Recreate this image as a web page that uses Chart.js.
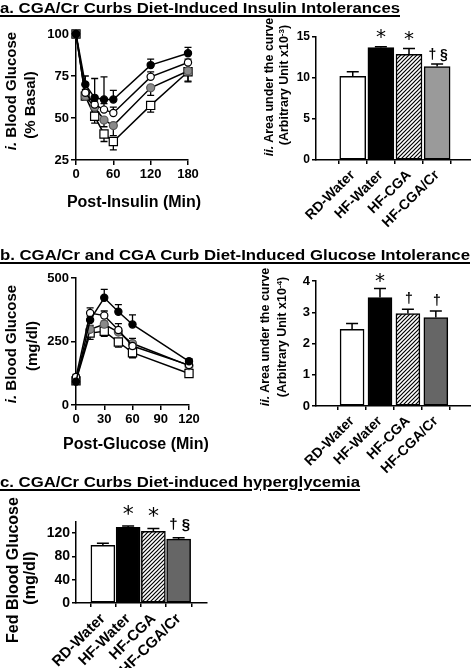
<!DOCTYPE html>
<html><head><meta charset="utf-8">
<script src="https://cdn.jsdelivr.net/npm/chart.js@4.4.0/dist/chart.umd.min.js"></script>
<style>
html,body{margin:0;padding:0;background:#fff;}
#wrap{position:relative;width:471px;height:668px;overflow:hidden;font-family:"Liberation Sans",Arial,sans-serif;color:#000;}
canvas{position:absolute;left:0;top:0;}
.t{position:absolute;white-space:nowrap;font-weight:bold;line-height:1;}
.h{left:0;font-size:15px;line-height:15px;text-decoration:underline;text-decoration-thickness:1.5px;text-underline-offset:2px;transform-origin:0 0;}
.c{transform:translate(-50%,-50%);}
.r{transform:translate(-50%,-50%) rotate(-90deg);}
sup{font-size:0.65em;vertical-align:0.45em;line-height:0;}
</style></head>
<body><div id="wrap">
<canvas id="cA1" width="471" height="668"></canvas>
<canvas id="cA2" width="471" height="668"></canvas>
<canvas id="cB1" width="471" height="668"></canvas>
<canvas id="cB2" width="471" height="668"></canvas>
<canvas id="cC" width="471" height="668"></canvas>

<div class="t h" id="ta" data-w="400" style="top:0px">a. CGA/Cr Curbs Diet-Induced Insulin Intolerances</div>
<div class="t h" id="tb" data-w="470" style="top:247px">b. CGA/Cr and CGA Curb Diet-Induced Glucose Intolerance</div>
<div class="t h" id="tc" data-w="360" style="top:474px">c. CGA/Cr Curbs Diet-induced hyperglycemia</div>

<div class="t r" style="left:10px;top:91px;font-size:15px"><i>i.</i> Blood Glucose</div>
<div class="t r" style="left:29px;top:105px;font-size:15px">(% Basal)</div>
<div class="t c" style="left:134px;top:202px;font-size:16px">Post-Insulin (Min)</div>

<div class="t r" style="left:269px;top:87px;font-size:12.5px"><i>ii.</i> Area under the curve</div>
<div class="t r" style="left:284px;top:85px;font-size:12.5px">(Arbitrary Unit x10<sup>-3</sup>)</div>

<div class="t r" style="left:10px;top:344px;font-size:15px"><i>i.</i> Blood Glucose</div>
<div class="t r" style="left:31px;top:346px;font-size:15px">(mg/dl)</div>
<div class="t c" style="left:136px;top:444px;font-size:16px">Post-Glucose (Min)</div>

<div class="t r" style="left:265px;top:337px;font-size:12.5px"><i>ii.</i> Area under the curve</div>
<div class="t r" style="left:282px;top:337px;font-size:12.5px">(Arbitrary Unit x10<sup>-4</sup>)</div>

<div class="t r" style="left:13px;top:570px;font-size:16px">Fed Blood Glucose</div>
<div class="t r" style="left:30px;top:578px;font-size:16px">(mg/dl)</div>
</div>
<script>
// ================= DATA =================
const groups = ['RD-Water', 'HF-Water', 'HF-CGA', 'HF-CGA/Cr'];

// a.i insulin tolerance (% basal)
const itTimes = [0, 15, 30, 45, 60, 120, 180];
const itRDWater = [100, 63, 51, 40.5, 36, 57.5, 77.5];
const itRDWaterErr = [0, 2, 4, 4.5, 5, 4, 6];
const itHFWater = [100, 70, 62, 61, 61, 81.5, 88.5];
const itHFWaterErr = [0, 5, 11.5, 13.5, 5.5, 3.5, 3.5];
const itHFCGA = [100, 65, 58, 55, 53, 74.5, 83];
const itHFCGAErr = [0, 2, 2, 3.5, 3.5, 3, 2];
const itHFCGACr = [100, 63, 56.5, 48.8, 45.5, 68, 78];
const itHFCGACrErr = [0, 2, 3, 4, 6, 4.5, 6];
const itXTicks = [0, 60, 120, 180];
const itYTicks = [25, 50, 75, 100];

// a.ii insulin AUC (x10^3)
const itAUC = [10.2, 13.7, 12.9, 11.4];
const itAUCErr = [0.55, 0.1, 0.7, 0.3];
const itAUCMarks = ['', '*', '*', '† §'];
const itAUCTicks = [0, 5, 10, 15];

// b.i glucose tolerance (mg/dl)
const gtTimes = [0, 15, 30, 45, 60, 120];
const gtRDWater = [95, 283, 290, 248, 206, 124];
const gtRDWaterErr = [10, 25, 20, 20, 20, 10];
const gtHFWater = [92, 335, 422, 367, 317, 172];
const gtHFWaterErr = [10, 15, 33, 28, 38, 10];
const gtHFCGA = [110, 362, 352, 295, 232, 157];
const gtHFCGAErr = [10, 20, 18, 25, 15, 8];
const gtHFCGACr = [100, 298, 318, 287, 242, 155];
const gtHFCGACrErr = [10, 15, 12, 15, 20, 8];
const gtXTicks = [0, 30, 60, 90, 120];
const gtYTicks = [0, 250, 500];

// b.ii glucose AUC (x10^4)
const gtAUC = [2.45, 3.47, 2.96, 2.83];
const gtAUCErr = [0.19, 0.29, 0.14, 0.21];
const gtAUCMarks = ['', '*', '†', '†'];
const gtAUCTicks = [0, 1, 2, 3, 4];

// c fed blood glucose (mg/dl)
const fedGlucose = [99, 129.5, 123, 109.5];
const fedGlucoseErr = [3.5, 2.5, 4.5, 2.5];
const fedMarks = ['', '*', '*', '† §'];
const fedTicks = [0, 40, 80, 120];

// ================= DRAWING =================
const W = 471, H = 668;
const FONT = '"Liberation Sans", Arial, sans-serif';
Chart.defaults.font.family = FONT;
Chart.defaults.color = '#000';

// fit titles to width
document.querySelectorAll('.h').forEach(el => {
  const w = el.getBoundingClientRect().width;
  el.style.transform = 'scaleX(' + (parseFloat(el.dataset.w) / w) + ')';
});

function hatch() {
  const n = 4;
  const c = document.createElement('canvas'); c.width = n; c.height = n;
  const g = c.getContext('2d');
  g.fillStyle = '#fff'; g.fillRect(0, 0, n, n);
  g.strokeStyle = '#000'; g.lineWidth = 1.2;
  g.beginPath();
  g.moveTo(-1, n + 1); g.lineTo(n + 1, -1);
  g.moveTo(-1, 1); g.lineTo(1, -1);
  g.moveTo(n - 1, n + 1); g.lineTo(n + 1, n - 1);
  g.stroke();
  return document.createElement('canvas').getContext('2d').createPattern(c, 'repeat');
}

function scaleOpts(o) {
  return {
    type: 'linear', min: o.min, max: o.max,
    afterBuildTicks: s => { s.ticks = o.ticks.map(v => ({ value: v })); },
    afterFit: o.fit,
    border: { display: true, color: '#000', width: 1.5 },
    grid: { drawOnChartArea: false, drawTicks: true, tickLength: o.tl || 5, color: '#000', lineWidth: 1.5 },
    ticks: {
      color: '#000', autoSkip: false, padding: o.pad ?? 2,
      font: { family: FONT, size: o.fs, weight: 'bold' },
      callback: o.cb || (v => String(v)),
      maxRotation: o.rot || 0, minRotation: o.rot || 0
    }
  };
}

function makeLine(id, area, cfg) {
  const errPlugin = {
    id: 'err' + id,
    beforeDatasetsDraw(chart) {
      const ctx = chart.ctx, xs = chart.scales.x, ys = chart.scales.y;
      ctx.save(); ctx.strokeStyle = '#000'; ctx.lineWidth = 1.3;
      cfg.series.forEach(s => {
        s.vals.forEach((v, i) => {
          const e = s.err[i]; if (!e) return;
          const px = xs.getPixelForValue(cfg.times[i]);
          const p0 = ys.getPixelForValue(v);
          const ends = [];
          if (s.dir.includes('u')) ends.push(v + e);
          if (s.dir.includes('d')) ends.push(v - e);
          ends.forEach(ev => {
            const pe = ys.getPixelForValue(ev);
            ctx.beginPath();
            ctx.moveTo(px, p0); ctx.lineTo(px, pe);
            ctx.moveTo(px - 3.5, pe); ctx.lineTo(px + 3.5, pe);
            ctx.stroke();
          });
        });
      });
      ctx.restore();
    }
  };
  return new Chart(document.getElementById(id), {
    type: 'line',
    data: {
      datasets: cfg.series.map(s => ({
        data: cfg.times.map((t, i) => ({ x: t, y: s.vals[i] })),
        borderColor: '#000', borderWidth: 1.5, tension: 0,
        pointStyle: s.style, pointRadius: s.r,
        pointBackgroundColor: s.fill, pointBorderColor: s.stroke, pointBorderWidth: 1.2,
        clip: false, order: s.order
      }))
    },
    options: {
      responsive: false, animation: false, events: [],
      layout: { padding: { left: 0, top: area.t, right: W - area.r, bottom: 0 } },
      plugins: { legend: { display: false }, tooltip: { enabled: false } },
      scales: {
        x: scaleOpts({ min: cfg.xMin, max: cfg.xMax, ticks: cfg.xTicks, fit: s => { s.height = H - area.b; }, fs: 13, pad: 2 }),
        y: scaleOpts({ min: cfg.yMin, max: cfg.yMax, ticks: cfg.yTicks, fit: s => { s.width = area.l; }, fs: 13, pad: 2 })
      }
    },
    plugins: [errPlugin]
  });
}

function makeBar(id, area, cfg) {
  const plug = {
    id: 'bar' + id,
    afterDatasetsDraw(chart) {
      const ctx = chart.ctx, xs = chart.scales.x, ys = chart.scales.y;
      ctx.save(); ctx.strokeStyle = '#000'; ctx.fillStyle = '#000'; ctx.lineWidth = 1.5;
      cfg.vals.forEach((v, i) => {
        const px = xs.getPixelForValue(i);
        const p0 = ys.getPixelForValue(v);
        const pe = ys.getPixelForValue(v + cfg.err[i]);
        ctx.beginPath();
        ctx.moveTo(px, p0); ctx.lineTo(px, pe);
        ctx.moveTo(px - cfg.cap, pe); ctx.lineTo(px + cfg.cap, pe);
        ctx.stroke();
        const m = cfg.marks[i];
        if (m) {
          ctx.textAlign = 'center';
          if (m === '*') {
            ctx.font = 'normal ' + cfg.starSize + 'px "DejaVu Sans"';
            ctx.textBaseline = 'middle';
            ctx.fillText(m, px, pe - cfg.starOff);
          } else {
            ctx.font = 'bold ' + cfg.dagSize + 'px ' + FONT;
            ctx.textBaseline = 'alphabetic';
            ctx.fillText(m, px + 1, pe - cfg.dagOff);
          }
        }
      });
      ctx.restore();
    }
  };
  return new Chart(document.getElementById(id), {
    type: 'bar',
    data: {
      datasets: [{
        data: cfg.vals.map((v, i) => ({ x: i, y: v })),
        backgroundColor: cfg.colors, borderColor: '#000', borderWidth: 1.5,
        borderSkipped: false, barThickness: cfg.bw
      }]
    },
    options: {
      responsive: false, animation: false, events: [],
      layout: { padding: { left: 0, top: area.t, right: W - area.r, bottom: 0 } },
      plugins: { legend: { display: false }, tooltip: { enabled: false } },
      scales: {
        x: scaleOpts({ min: cfg.xMin, max: cfg.xMax, ticks: groups.map((g, i) => i), fit: s => { s.height = H - area.b; },
          fs: cfg.labelSize, rot: 45, cb: v => groups[v], tl: 4, pad: 3 }),
        y: scaleOpts({ min: 0, max: cfg.yMax, ticks: cfg.yTicks, fit: s => { s.width = area.l; }, fs: cfg.tickSize, tl: 4, pad: 2 })
      }
    },
    plugins: [plug]
  });
}

const HATCH = hatch();

// a.i
makeLine('cA1', { l: 76, r: 188, t: 34, b: 160 }, {
  times: itTimes, xMin: 0, xMax: 180, yMin: 25, yMax: 100, xTicks: itXTicks, yTicks: itYTicks,
  series: [
    { vals: itHFWater, err: itHFWaterErr, dir: 'u', style: 'circle', r: 3.6, fill: '#000', stroke: '#000', order: 0 },
    { vals: itHFCGA, err: itHFCGAErr, dir: 'u', style: 'circle', r: 3.6, fill: '#fff', stroke: '#000', order: 1 },
    { vals: itHFCGACr, err: itHFCGACrErr, dir: 'd', style: 'circle', r: 4, fill: '#8a8a8a', stroke: '#555', order: 2 },
    { vals: itRDWater, err: itRDWaterErr, dir: 'd', style: 'rect', r: 5.8, fill: '#fff', stroke: '#000', order: 3 }
  ]
});

// a.ii
makeBar('cA2', { l: 316, r: 470.5, t: 37, b: 160 }, {
  vals: itAUC, err: itAUCErr, marks: itAUCMarks, yMax: 15, yTicks: itAUCTicks,
  xMin: -0.62, xMax: 3.5, bw: 26, cap: 6, colors: ['#fff', '#000', HATCH, '#9a9a9a'],
  labelSize: 14, tickSize: 12, starSize: 20, starOff: 9, dagSize: 14, dagOff: 5
});

// b.i
makeLine('cB1', { l: 76, r: 189, t: 278, b: 405 }, {
  times: gtTimes, xMin: 0, xMax: 120, yMin: 0, yMax: 500, xTicks: gtXTicks, yTicks: gtYTicks,
  series: [
    { vals: gtHFWater, err: gtHFWaterErr, dir: 'u', style: 'circle', r: 3.6, fill: '#000', stroke: '#000', order: 0 },
    { vals: gtHFCGA, err: gtHFCGAErr, dir: 'u', style: 'circle', r: 3.6, fill: '#fff', stroke: '#000', order: 1 },
    { vals: gtHFCGACr, err: gtHFCGACrErr, dir: 'u', style: 'circle', r: 4, fill: '#8a8a8a', stroke: '#555', order: 2 },
    { vals: gtRDWater, err: gtRDWaterErr, dir: 'd', style: 'rect', r: 5.8, fill: '#fff', stroke: '#000', order: 3 }
  ]
});

// b.ii
makeBar('cB2', { l: 316, r: 470.5, t: 281, b: 406 }, {
  vals: gtAUC, err: gtAUCErr, marks: gtAUCMarks, yMax: 4, yTicks: gtAUCTicks,
  xMin: -0.6, xMax: 3.55, bw: 24, cap: 6, colors: ['#fff', '#000', HATCH, '#666'],
  labelSize: 14, tickSize: 13, starSize: 20, starOff: 7, dagSize: 14, dagOff: 6
});

// c
makeBar('cC', { l: 76, r: 207, t: 521.3, b: 603 }, {
  vals: fedGlucose, err: fedGlucoseErr, marks: fedMarks, yMax: 140, yTicks: fedTicks,
  xMin: -0.416, xMax: 3.475, bw: 24, cap: 6, colors: ['#fff', '#000', HATCH, '#666'],
  labelSize: 15, tickSize: 14, starSize: 22, starOff: 11, dagSize: 15, dagOff: 9
});
</script>
</body></html>
